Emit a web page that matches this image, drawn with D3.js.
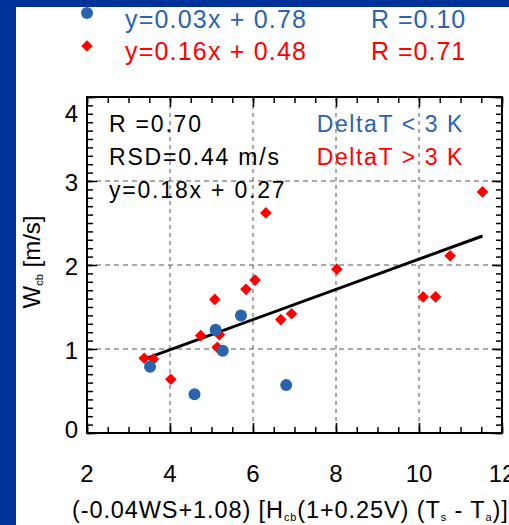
<!DOCTYPE html>
<html>
<head>
<meta charset="utf-8">
<script src="https://cdn.jsdelivr.net/npm/d3@7"></script>
<style>
  body { margin: 0; background: #fff; }
  svg { display: block; font-family: "Liberation Sans", Arial, Helvetica, sans-serif; }
</style>
</head>
<body>
<svg id="chart" width="509" height="525"></svg>
<script>
/* global d3 */

// tick values
const xTicks = [2, 4, 6, 8, 10, 12]
const yTicks = [0, 1, 2, 3, 4]

// DeltaT < 3 K (blue circles)
const blueX = [3.52, 4.59, 5.10, 5.27, 5.71, 6.80]
const blueY = [0.79, 0.46, 1.23, 0.98, 1.40, 0.57]

// DeltaT > 3 K (red diamonds)
const redX = [3.38, 3.60, 4.02, 4.74, 5.08, 5.19, 5.14, 5.83, 6.05, 6.31, 6.67, 6.93, 8.02, 10.10, 10.40, 10.75, 11.53]
const redY = [0.89, 0.88, 0.64, 1.16, 1.59, 1.17, 1.02, 1.71, 1.82, 2.62, 1.35, 1.42, 1.95, 1.62, 1.62, 2.11, 2.87]

// fit over all points
const fitSlope = 0.18
const fitIntercept = 0.27

const statLines = ['R =0.70', 'RSD=0.44 m/s', 'y=0.18x + 0.27']
const groupLabels = ['DeltaT < 3 K', 'DeltaT > 3 K']
const legendFits = ['y=0.03x + 0.78', 'y=0.16x + 0.48']
const legendR = ['R =0.10', 'R =0.71']

const blue = '#2a63ae'
const red = '#ff0000'
const frame = '#003399'

const svg = d3.select('#chart')
const margin = { top: 97, right: 7, bottom: 92, left: 87 }
const W = 509, H = 525
const iw = W - margin.left - margin.right
const ih = H - margin.top - margin.bottom

// blue slide frame
svg.append('rect').attr('x', 0).attr('y', 0).attr('width', 16).attr('height', H).attr('fill', frame)
svg.append('rect').attr('x', 0).attr('y', 0).attr('width', W).attr('height', 7).attr('fill', frame)

const x = d3.scaleLinear().domain([2, 12]).range([0, iw])
const y = d3.scaleLinear().domain([0, 4]).range([ih, 0])

const g = svg.append('g').attr('transform', `translate(${margin.left},${margin.top})`)

// dashed grid
g.selectAll('.vgrid').data(xTicks.slice(1, -1)).enter().append('line')
  .attr('x1', d => x(d)).attr('x2', d => x(d)).attr('y1', 0).attr('y2', ih)
  .attr('stroke', '#555').attr('stroke-width', 1).attr('stroke-dasharray', '4,4')
g.selectAll('.hgrid').data(yTicks.slice(1, -1)).enter().append('line')
  .attr('x1', 0).attr('x2', iw).attr('y1', d => y(d)).attr('y2', d => y(d))
  .attr('stroke', '#555').attr('stroke-width', 1).attr('stroke-dasharray', '5,4')

// ticks, pointing inward on all four sides
const minorX = d3.range(2, 12.001, 0.5)
const minorY = d3.range(0, 4.001, 0.1)
function tickAxis(axis, values, size) {
  return axis.tickValues(values).tickSize(size).tickFormat('')
}
const axes = [
  [tickAxis(d3.axisBottom(x), minorX, -6), `translate(0,${ih})`],
  [tickAxis(d3.axisBottom(x), xTicks, -10), `translate(0,${ih})`],
  [tickAxis(d3.axisTop(x), minorX, -6), 'translate(0,0)'],
  [tickAxis(d3.axisTop(x), xTicks, -10), 'translate(0,0)'],
  [tickAxis(d3.axisLeft(y), minorY, -6), 'translate(0,0)'],
  [tickAxis(d3.axisLeft(y), yTicks, -10), 'translate(0,0)'],
  [tickAxis(d3.axisRight(y), minorY, -6), `translate(${iw},0)`],
  [tickAxis(d3.axisRight(y), yTicks, -10), `translate(${iw},0)`]
]
axes.forEach(([axis, tr]) => {
  const a = g.append('g').attr('transform', tr).call(axis)
  a.select('.domain').remove()
  a.selectAll('line').attr('stroke', '#000').attr('stroke-width', 1.5)
})
g.append('rect').attr('x', 0).attr('y', 0).attr('width', iw).attr('height', ih)
  .attr('fill', 'none').attr('stroke', '#000').attr('stroke-width', 2)

// tick labels (the last x label runs off the edge, as in the original slide)
g.selectAll('.xl').data(xTicks).enter().append('text')
  .attr('x', d => x(d)).attr('y', ih + 49)
  .attr('text-anchor', 'middle').attr('font-size', 24).text(d => d)
g.selectAll('.yl').data(yTicks).enter().append('text')
  .attr('x', -9).attr('y', d => Math.max(25, Math.min(ih + 5, y(d) + 10)))
  .attr('text-anchor', 'end').attr('font-size', 24).text(d => d)

// regression line across the data
const allX = blueX.concat(redX)
const xr = d3.extent(allX)
g.append('line')
  .attr('x1', x(xr[0])).attr('y1', y(fitSlope * xr[0] + fitIntercept))
  .attr('x2', x(xr[1])).attr('y2', y(fitSlope * xr[1] + fitIntercept))
  .attr('stroke', '#000').attr('stroke-width', 3)

// points
const diamond = d3.symbol().type(d3.symbolSquare).size(68)
g.selectAll('.red').data(redX).enter().append('path')
  .attr('d', diamond)
  .attr('transform', (d, i) => `translate(${x(d)},${y(redY[i])}) rotate(45)`)
  .attr('fill', red)
g.selectAll('.blue').data(blueX).enter().append('circle')
  .attr('cx', d => x(d)).attr('cy', (d, i) => y(blueY[i])).attr('r', 6)
  .attr('fill', blue)

// stats text inside plot
g.selectAll('.stat').data(statLines).enter().append('text')
  .attr('x', 22).attr('y', (d, i) => 35 + i * 33)
  .attr('font-size', 23).attr('letter-spacing', 1.8).text(d => d)
g.selectAll('.grp').data(groupLabels).enter().append('text')
  .attr('x', 377).attr('y', (d, i) => 35 + i * 33)
  .attr('text-anchor', 'end').attr('font-size', 23).attr('letter-spacing', 1.6)
  .attr('fill', (d, i) => i === 0 ? blue : red).text(d => d)

// legend above the plot
const legendColors = [blue, red]
const lg = svg.append('g')
lg.append('circle').attr('cx', 87).attr('cy', 13).attr('r', 6).attr('fill', blue)
lg.append('path').attr('d', d3.symbol().type(d3.symbolSquare).size(64))
  .attr('transform', 'translate(87,46) rotate(45)').attr('fill', red)
lg.selectAll('.lf').data(legendFits).enter().append('text')
  .attr('x', 125).attr('y', (d, i) => 28 + i * 32)
  .attr('font-size', 25).attr('letter-spacing', 1.2).attr('fill', (d, i) => legendColors[i]).text(d => d)
lg.selectAll('.lr').data(legendR).enter().append('text')
  .attr('x', 371).attr('y', (d, i) => 28 + i * 32)
  .attr('font-size', 25).attr('letter-spacing', 1).attr('fill', (d, i) => legendColors[i]).text(d => d)

// axis titles
const yt = svg.append('text')
  .attr('transform', `translate(40,${margin.top + ih / 2 - 3}) rotate(-90)`)
  .attr('text-anchor', 'middle').attr('font-size', 24)
yt.append('tspan').text('W')
yt.append('tspan').attr('font-size', 11).attr('dy', 3).text('cb')
yt.append('tspan').attr('dy', -3).text(' [m/s]')

const xt = svg.append('text').attr('x', 72).attr('y', 518).attr('font-size', 23.5)
  .attr('letter-spacing', 0.9).attr('xml:space', 'preserve').style('white-space', 'pre')
const parts = [
  ['(-0.04WS+1.08) [H', 0, 23.5], ['cb', 3, 11], ['(1+0.25V) (T', -3, 23.5],
  ['s', 3, 11], [' - T', -3, 23.5], ['a', 3, 11], [')]', -3, 23.5], ['1/3', -11, 11]
]
parts.forEach(p => xt.append('tspan').attr('dy', p[1]).attr('font-size', p[2]).text(p[0]))
</script>
</body>
</html>
